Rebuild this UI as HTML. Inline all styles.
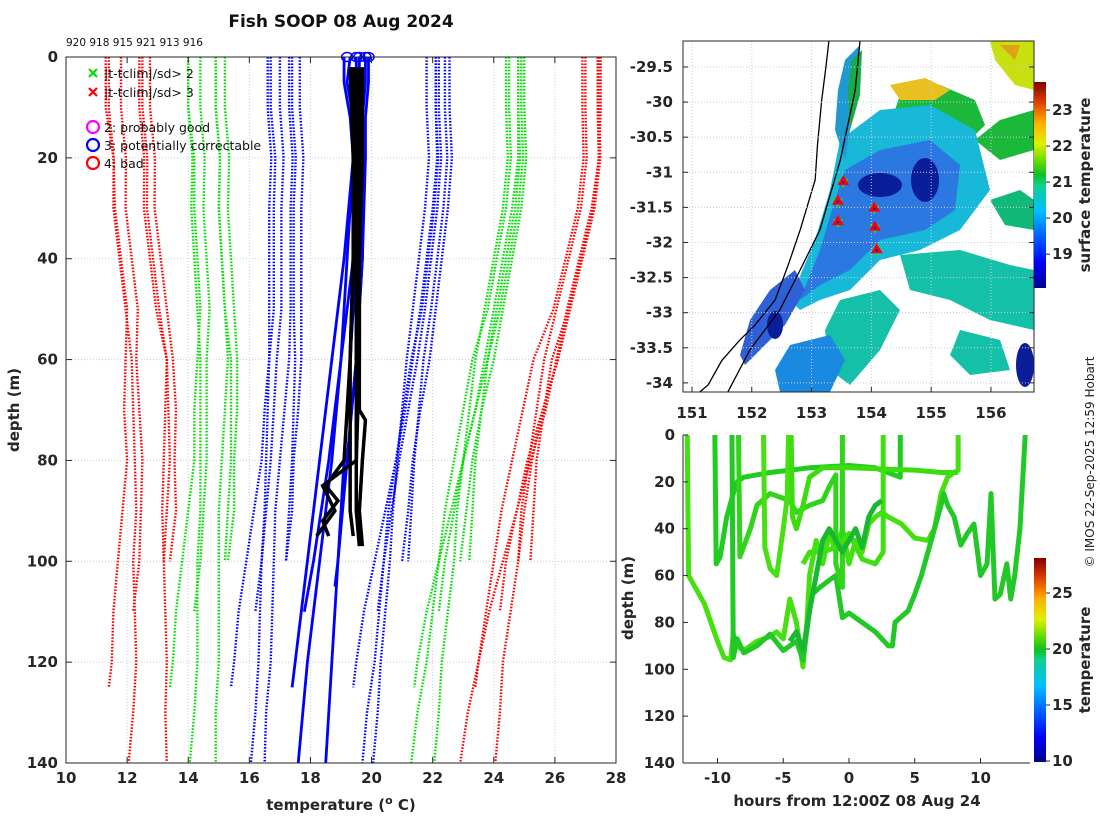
<!DOCTYPE html>
<html><head><meta charset="utf-8"><style>
html,body{margin:0;padding:0;background:#fff;}
svg text{font-family:"DejaVu Sans","Liberation Sans",sans-serif;}
.tk{font-weight:bold;font-size:15px;fill:#262626;}
</style></head><body>
<svg id="root" width="1100" height="820" viewBox="0 0 1100 820" xmlns="http://www.w3.org/2000/svg">
<defs>
<linearGradient id="jet" x1="0" y1="1" x2="0" y2="0">
<stop offset="0" stop-color="#00008f"/><stop offset="0.125" stop-color="#0000ff"/><stop offset="0.375" stop-color="#00c0ff"/><stop offset="0.5" stop-color="#10d090"/><stop offset="0.55" stop-color="#10c020"/><stop offset="0.625" stop-color="#70e000"/><stop offset="0.7" stop-color="#e0f000"/><stop offset="0.8" stop-color="#ffb000"/><stop offset="0.9" stop-color="#e04000"/><stop offset="1" stop-color="#800000"/>
</linearGradient>
<clipPath id="clipL"><rect x="66" y="57" width="550" height="706"/></clipPath>
<clipPath id="clipM"><rect x="683" y="41" width="351" height="351"/></clipPath>
<clipPath id="clipB"><rect x="683" y="435" width="347" height="328"/></clipPath>
</defs>
<text x="341" y="27" text-anchor="middle" font-size="17" font-weight="bold" fill="#111">Fish SOOP 08 Aug 2024</text>
<text x="66" y="46" font-size="10.5" fill="#111">920 918 915 921 913 916</text>
<g id="left"></g>
<g id="map"></g>
<g id="br"></g>
<text transform="translate(1094,462) rotate(-90)" text-anchor="middle" font-size="12" fill="#222">© IMOS 22-Sep-2025 12:59 Hobart</text>
</svg>
<script>
// ---------- Left profile chart data ----------
const climDepths=[0,10,20,30,40,50,60,70,80,90,100,110,120,130,140];
const castMaxDepth=[125,110,100,100,140,140];
const castMean1=[19.4,19.4,19.5,19.4,19.3,19.2,19.0,18.8,18.6,18.3,18.0,17.7,17.5,17.4];
const castMean2=[19.6,19.6,19.7,19.6,19.5,19.4,19.2,19.0,18.8,18.6,18.4,18.2];
const castMean3=[19.9,19.9,20.0,19.9,19.8,19.7,19.6,19.5,19.4,19.3,19.2];
const castMean4=[20.1,20.1,20.2,20.1,20.0,19.9,19.8,19.6,19.4,19.3,19.1];
const castMean5=[19.2,19.2,19.3,19.2,19.1,19.0,18.9,18.8,18.7,18.6,18.5,18.4,18.3,18.2,18.05];
const castMean6=[19.7,19.7,19.8,19.7,19.6,19.5,19.3,19.1,18.9,18.7,18.6,18.5,18.4,18.2,18.1];
const castSd1=[2.7,2.7,2.65,2.6,2.5,2.4,2.35,2.3,2.2,2.15,2.1,2.05,2.0,2.0];
const castSd2=[2.6,2.6,2.58,2.55,2.45,2.35,2.3,2.2,2.1,2.05,2.0,2.0];
const castSd3=[2.5,2.5,2.48,2.45,2.35,2.25,2.1,2.05,2.0,2.0,2.0];
const castSd4=[2.45,2.45,2.43,2.4,2.3,2.2,2.1,2.0,1.95,1.9,1.9];
const castSd5=[2.6,2.6,2.58,2.55,2.45,2.35,2.25,2.2,2.15,2.1,2.1,2.05,2.0,2.0,2.0];
const castSd6=[2.4,2.4,2.38,2.35,2.25,2.15,2.0,1.95,1.9,1.85,1.8,1.75,1.7,1.65,1.6];
// measured blue (flag 3) profiles: depth / temperature
const blueDepth1=[0,5,12,20,40,60,80,100,120,140];
const blueTemp1=[19.1,19.1,19.3,19.4,19.2,19.0,18.7,18.3,17.9,17.6];
const blueDepth2=[0,5,12,20,40,60,80,100,120,140];
const blueTemp2=[19.5,19.5,19.6,19.6,19.5,19.3,19.1,18.9,18.7,18.5];
const blueDepth3=[0,5,12,20,40,60,80,100,120,125];
const blueTemp3=[19.3,19.2,19.4,19.4,19.1,18.7,18.3,17.9,17.5,17.4];
const blueDepth4=[0,5,12,20,40,60,80,100,110];
const blueTemp4=[19.6,19.6,19.6,19.6,19.4,19.0,18.6,18.1,17.8];
const blueDepth5=[0,5,12,20,40,60,80,100,105];
const blueTemp5=[19.8,19.8,19.7,19.7,19.7,19.5,19.2,18.9,18.8];
const blueDepth6=[0,5,12,20,40,60,80,92];
const blueTemp6=[19.9,19.9,19.8,19.8,19.7,19.5,19.2,19.0];
const blackDepth1=[2,20,40,60,70,72,80,90,97];
const blackTemp1=[19.6,19.6,19.6,19.6,19.6,19.8,19.7,19.6,19.7];
const blackDepth2=[2,20,40,60,80,90,95];
const blackTemp2=[19.4,19.4,19.4,19.3,19.3,19.3,19.4];
const blackDepth3=[2,20,40,60,80,85,88,92,95];
const blackTemp3=[19.3,19.4,19.4,19.3,19.1,18.5,18.9,18.4,18.6];
const blackDepth4=[2,20,40,55,80,85,90,95];
const blackTemp4=[19.5,19.5,19.5,19.5,19.5,18.4,18.8,18.2];
const blackDepth5=[2,20,40,60,80,90,97];
const blackTemp5=[19.7,19.7,19.6,19.6,19.5,19.5,19.6];
const circleTemps=[19.2,19.5,19.6,19.8,19.9];
const xTicksL=[10,12,14,16,18,20,22,24,26,28];
const yTicksL=[0,20,40,60,80,100,120,140];

// ---------- Map data ----------
const mapLonTicks=[151,152,153,154,155,156];
const mapLatTicks=[-29.5,-30,-30.5,-31,-31.5,-32,-32.5,-33,-33.5,-34];
const stationLon=[153.53,153.44,153.44,154.05,154.06,154.09];
const stationLat=[-31.14,-31.42,-31.71,-31.52,-31.79,-32.11];
const sstTicks=[19,20,21,22,23];
const coastLon=[153.29,153.24,153.17,153.1,153.06,152.81,152.61,152.39,152.05,151.8,151.5,151.27,151.13];
const coastLat=[-29.13,-29.5,-29.97,-30.6,-31.11,-31.82,-32.32,-32.82,-33.18,-33.39,-33.68,-34.03,-34.13];
const isoLon=[153.81,153.73,153.48,153.14,152.81,152.47,151.97,151.6];
const isoLat=[-29.13,-29.83,-30.83,-31.82,-32.39,-32.96,-33.53,-34.13];

// ---------- Bottom-right data ----------
const hrTicks=[-10,-5,0,5,10];
const depTicksB=[0,20,40,60,80,100,120,140];
const cbTicksB=[10,15,20,25];
const trkHoursA=[-12.3,-12.2,-11,-10,-9.5,-9,-8.8,-8.5,-8,-7,-6,-5.5,-5,-4.5,-4,-3.5,-3.2,-3,-2.5,-2,-1.5,-1,-0.5,0,0.5,1,1.5,2,2.5,3,4,5,6,6.5,7,7.5,8,8.3,8.3];
const trkDepthA=[0,60,72,88,95,96,85,90,92,88,86,84,87,70,80,99,80,60,45,55,42,50,40,55,45,50,38,35,33,35,38,44,45,40,25,18,16,15,0];
const trkHoursB=[-10.2,-10.1,-9.8,-9.3,-8.8,-8.5,-8,-6,-3,0,2,3.9,3.9];
const trkDepthB=[0,55,52,35,25,20,18,16,14,13,14,18,0];
const trkHoursC=[-8.9,-8.8,-8.5,-8,-7,-6,-5,-4,-3.5,-3,-2.8,-2.2,-1.5,-1,-0.5,0,1,2,3,3.3,3.5,4.5,5,5.5,6,6.5,7,7.2,7.5,8,8.5,9,9.5,10,10.5,10.8,11.1,11.5,12,12.3,12.6,13,13.4];
const trkDepthC=[0,95,87,93,90,85,92,88,96,75,68,65,62,60,78,76,80,84,90,90,80,75,68,60,50,40,30,25,30,35,47,42,38,60,55,25,70,68,55,70,60,40,0];
const trkHoursD=[-8.4,-8.3,-7.5,-7,-6,-5,-4.5,-4,-3,-2,-1.5,-1,-1,-0.5,-0.5];
const trkDepthD=[0,52,40,30,25,27,28,33,30,28,22,17,55,65,0];
const trkHoursE=[-6.5,-6.4,-6,-5.5,-5,-4.7,-4.6];
const trkDepthE=[0,48,57,60,40,27,0];
const trkHoursF=[-4.4,-4.3,-4,-3.5,-3,-2,0,5,7,8.3];
const trkDepthF=[0,35,40,30,18,14,14,15,16,16];
const trkHoursG=[-3.5,-3,-2,-1,0,1,2,2.6,2.6];
const trkDepthG=[55,50,50,48,42,53,55,50,0];
const trkHoursH=[-4.5,-4,-3.5,-3,-2.5,-2,-1.5,-1,-0.5,0,0.5,1,1.5,2,2.5];
const trkDepthH=[88,84,92,75,60,45,40,45,50,45,40,48,35,30,28];

const NS="http://www.w3.org/2000/svg";
function mk(tag,attrs,parent){const e=document.createElementNS(NS,tag);for(const k in attrs)e.setAttribute(k,attrs[k]);parent.appendChild(e);return e;}

// ===== LEFT =====
const L=document.getElementById('left');
const lx0=66,lx1=616,ly0=57,ly1=763;
const xL=t=>lx0+(t-10)/18*(lx1-lx0);
const yL=d=>ly0+d/140*(ly1-ly0);
xTicksL.forEach(t=>{const g=mk('line',{x1:xL(t),x2:xL(t),y1:ly0,y2:ly1,stroke:'#c9cbe0','stroke-width':1,'stroke-dasharray':'1 2'},L);
});
yTicksL.forEach(d=>{const g=mk('line',{x1:lx0,x2:lx1,y1:yL(d),y2:yL(d),stroke:'#c9cbe0','stroke-width':1,'stroke-dasharray':'1 2'},L);
});
const means=[castMean1,castMean2,castMean3,castMean4,castMean5,castMean6];
const sds=[castSd1,castSd2,castSd3,castSd4,castSd5,castSd6];
const envCol={1:'#0000ff',2:'#00e000',3:'#ff0000'};
const gL=mk('g',{'clip-path':'url(#clipL)'},L);
means.forEach((m,ci)=>{
 const dd=m.map((_,i)=>i<climDepths.length-1&&climDepths[i]<castMaxDepth[ci]?climDepths[i]:castMaxDepth[ci]);
 [-3,-2,-1,1,2,3].forEach(k=>{
  const pts=m.map((v,i)=>xL(v+k*sds[ci][i]).toFixed(1)+','+yL(dd[i]).toFixed(1)).join(' ');
  const p=mk('polyline',{points:pts,fill:'none',stroke:envCol[Math.abs(k)],'stroke-width':2.4,'stroke-dasharray':'1.6 1.6'},gL);
  
  
 });
});
[[blueDepth1,blueTemp1],[blueDepth2,blueTemp2],[blueDepth3,blueTemp3],[blueDepth4,blueTemp4],[blueDepth5,blueTemp5],[blueDepth6,blueTemp6]].forEach(([d,t])=>{
 const p=mk('polyline',{points:t.map((v,i)=>xL(v)+','+yL(d[i])).join(' '),fill:'none',stroke:'#0000ff','stroke-width':2.8},gL);
 
 
});
[[blackDepth1,blackTemp1],[blackDepth2,blackTemp2],[blackDepth3,blackTemp3],[blackDepth4,blackTemp4],[blackDepth5,blackTemp5]].forEach(([d,t])=>{
 const p=mk('polyline',{points:t.map((v,i)=>xL(v)+','+yL(d[i])).join(' '),fill:'none',stroke:'#000','stroke-width':3.5},gL);
 
 
});
circleTemps.forEach(t=>{const c=mk('ellipse',{cx:xL(t),cy:ly0,rx:5.5,ry:4.5,fill:'none',stroke:'#0000ff','stroke-width':1.5},L);
});
mk('rect',{x:lx0,y:ly0,width:lx1-lx0,height:ly1-ly0,fill:'none',stroke:'#262626','stroke-width':1},L);
xTicksL.forEach(t=>{mk('line',{x1:xL(t),x2:xL(t),y1:ly1,y2:ly1-6,stroke:'#262626'},L);mk('line',{x1:xL(t),x2:xL(t),y1:ly0,y2:ly0+6,stroke:'#262626'},L);
 const tx=mk('text',{x:xL(t),y:783,'text-anchor':'middle',class:'tk'},L);tx.textContent=t;
 });
yTicksL.forEach(d=>{mk('line',{x1:lx0,x2:lx0+6,y1:yL(d),y2:yL(d),stroke:'#262626'},L);mk('line',{x1:lx1,x2:lx1-6,y1:yL(d),y2:yL(d),stroke:'#262626'},L);
 const tx=mk('text',{x:58,y:yL(d)+5,'text-anchor':'end',class:'tk'},L);tx.textContent=d;
 });
{const t=mk('text',{x:341,y:810,'text-anchor':'middle',class:'tk'},L);t.innerHTML='temperature (<tspan dy="-6" font-size="11">o</tspan><tspan dy="6"> C)</tspan>';

const y=mk('text',{transform:'translate(19,410) rotate(-90)','text-anchor':'middle',class:'tk'},L);y.textContent='depth (m)';
}
// legend
const lg=mk('g',{},L);
[['#00e000','|t-tclim|/sd> 2',73],['#ff0000','|t-tclim|/sd> 3',92]].forEach(([c,s,y])=>{
 mk('path',{d:`M89 ${y-4}l8 8M97 ${y-4}l-8 8`,stroke:c,'stroke-width':2.2},lg);
 const t=mk('text',{x:104,y:y+5,'font-size':12.5,fill:'#111'},lg);t.textContent=s;
 });
[['#ff00ff','2: probably good',127],['#0000ff','3: potentially correctable',145],['#ff0000','4: bad',163]].forEach(([c,s,y])=>{
 mk('circle',{cx:93,cy:y,r:6,fill:'none',stroke:c,'stroke-width':2.2},lg);
 const t=mk('text',{x:104,y:y+5,'font-size':12.5,fill:'#111'},lg);t.textContent=s;
 });

// ===== MAP =====
const M=document.getElementById('map');
const mx0=683,mx1=1034,my0=41,my1=392;
const lonMin=150.85,lonMax=156.72,latMax=-29.13,latMin=-34.13;
const xM=lo=>mx0+(lo-lonMin)/(lonMax-lonMin)*(mx1-mx0);
const yM=la=>my0+(latMax-la)/(latMax-latMin)*(my1-my0);
const gM=mk('g',{'clip-path':'url(#clipM)'},M);
const blobs=[
 ['#1cb83a','900,95 940,85 975,100 985,125 965,145 945,140 920,120 895,110'],
 ['#c8e010','990,41 1034,41 1034,90 1015,85 995,60'],
 ['#e8c020','890,85 925,78 950,90 935,100 900,100'],
 ['#e0a018','1000,45 1020,45 1015,60'],
 ['#1cb83a','975,140 1000,120 1034,110 1034,150 1000,160'],
 ['#12b878','990,200 1020,190 1034,200 1034,230 1005,225'],
 ['#14c0a8','900,255 960,250 1010,265 1034,270 1034,330 990,320 950,300 910,290'],
 ['#14c0a8','840,300 880,290 900,310 880,350 850,385 830,370 825,330'],
 ['#14c0a8','960,330 1000,340 1010,370 970,375 950,355'],
 ['#18b8d8','840,140 880,110 930,105 975,130 990,190 960,230 920,250 880,260 850,290 820,300 800,310 790,300 815,240 830,190'],
 ['#2a78e0','845,170 880,150 930,140 960,165 955,210 925,230 880,240 850,270 820,285 800,300 820,250 835,200'],
 ['#1e9ad0','845,60 860,45 855,100 845,160 835,130 838,90'],
 ['#1aaa48','852,60 862,50 860,95 850,130 848,90'],
 ['#3060d8','770,290 795,270 805,290 785,325 765,345 745,365 740,355 750,320'],
 ['#1a8ae0','790,345 830,335 845,360 830,392 780,392 775,370'],
];
blobs.forEach(([c,p])=>{const e=mk('polygon',{points:p,fill:c},gM);});
[[880,185,22,12],[925,180,14,22],[775,325,8,14],[1025,365,9,22]].forEach(([x,y,a,b])=>{const e=mk('ellipse',{cx:x,cy:y,rx:a,ry:b,fill:'#0a1e9a'},gM);});
mapLonTicks.forEach(lo=>{mk('line',{x1:xM(lo),x2:xM(lo),y1:my0,y2:my1,stroke:'#c9cbe0','stroke-dasharray':'1 2'},M);});
mapLatTicks.forEach(la=>{mk('line',{x1:mx0,x2:mx1,y1:yM(la),y2:yM(la),stroke:'#c9cbe0','stroke-dasharray':'1 2'},M);});
{const c=mk('polyline',{points:coastLon.map((v,i)=>xM(v)+','+yM(coastLat[i])).join(' '),fill:'none',stroke:'#000','stroke-width':1.3},gM);

const s=mk('polyline',{points:isoLon.map((v,i)=>xM(v)+','+yM(isoLat[i])).join(' '),fill:'none',stroke:'#000','stroke-width':1.3},gM);
}
stationLon.forEach((lo,i)=>{const x=xM(lo),y=yM(stationLat[i]);
 mk('path',{d:`M${x-5} ${y-3}h10l-5 9z`,fill:'#22dd22'},M);
 const t=mk('path',{d:`M${x} ${y-7}l6 10h-12z`,fill:'#ff0000'},M);
 
 mk('circle',{cx:x,cy:y,r:1.2,fill:'#0000ff'},M);});
mk('rect',{x:mx0,y:my0,width:mx1-mx0,height:my1-my0,fill:'none',stroke:'#262626'},M);
mapLonTicks.forEach(lo=>{mk('line',{x1:xM(lo),x2:xM(lo),y1:my1,y2:my1-5,stroke:'#262626'},M);
 const t=mk('text',{x:xM(lo),y:418,'text-anchor':'middle',class:'tk'},M);t.textContent=lo;
 });
mapLatTicks.forEach(la=>{mk('line',{x1:mx0,x2:mx0+5,y1:yM(la),y2:yM(la),stroke:'#262626'},M);mk('line',{x1:mx1,x2:mx1-5,y1:yM(la),y2:yM(la),stroke:'#262626'},M);
 const t=mk('text',{x:673,y:yM(la)+5,'text-anchor':'end',class:'tk'},M);t.textContent=la;
 });
const cb1=mk('rect',{x:1034,y:82,width:12,height:206,fill:'url(#jet)'},M);

const ySst=v=>288-(v-18.06)/(23.78-18.06)*206;
sstTicks.forEach(v=>{mk('line',{x1:1046,x2:1050,y1:ySst(v),y2:ySst(v),stroke:'#262626'},M);
 const t=mk('text',{x:1052,y:ySst(v)+5,class:'tk','font-size':14},M);t.textContent=v;
 });
{const t=mk('text',{transform:'translate(1090,185) rotate(-90)','text-anchor':'middle',class:'tk','font-size':14},M);t.textContent='surface temperature';
}

// ===== BOTTOM RIGHT =====
const B=document.getElementById('br');
const bx0=683,bx1=1030,by0=435,by1=763;
const xB=h=>849+h*13.15;
const yB=d=>by0+d/140*(by1-by0);
const gB=mk('g',{'clip-path':'url(#clipB)'},B);
[[trkHoursA,trkDepthA,'#44e010'],[trkHoursB,trkDepthB,'#20cc20'],[trkHoursC,trkDepthC,'#22c825'],[trkHoursD,trkDepthD,'#30d418'],[trkHoursE,trkDepthE,'#48e012'],[trkHoursF,trkDepthF,'#3cdc10'],[trkHoursG,trkDepthG,'#40e010'],[trkHoursH,trkDepthH,'#1ab830']].forEach(([h,d,c])=>{
 const p=mk('polyline',{points:h.map((v,i)=>xB(v)+','+yB(d[i])).join(' '),fill:'none',stroke:c,'stroke-width':5,'stroke-linejoin':'round'},gB);
 
 
});
mk('line',{x1:bx0,x2:bx0,y1:by0,y2:by1,stroke:'#262626'},B);
mk('line',{x1:bx0,x2:bx1,y1:by1,y2:by1,stroke:'#262626'},B);
hrTicks.forEach(h=>{mk('line',{x1:xB(h),x2:xB(h),y1:by1,y2:by1-5,stroke:'#262626'},B);
 const t=mk('text',{x:xB(h),y:783,'text-anchor':'middle',class:'tk'},B);t.textContent=h;
 });
depTicksB.forEach(d=>{mk('line',{x1:bx0,x2:bx0+5,y1:yB(d),y2:yB(d),stroke:'#262626'},B);
 const t=mk('text',{x:675,y:yB(d)+5,'text-anchor':'end',class:'tk'},B);t.textContent=d;
 });
{const t=mk('text',{x:857,y:806,'text-anchor':'middle',class:'tk'},B);t.textContent='hours from 12:00Z 08 Aug 24';

const y=mk('text',{transform:'translate(633,598) rotate(-90)','text-anchor':'middle',class:'tk'},B);y.textContent='depth (m)';
}
const cb2=mk('rect',{x:1034,y:558,width:12,height:204,fill:'url(#jet)'},B);

const yCb=v=>761-(v-10)*11.2;
cbTicksB.forEach(v=>{mk('line',{x1:1046,x2:1050,y1:yCb(v),y2:yCb(v),stroke:'#262626'},B);
 const t=mk('text',{x:1052,y:yCb(v)+5,class:'tk','font-size':14},B);t.textContent=v;
 });
{const t=mk('text',{transform:'translate(1090,660) rotate(-90)','text-anchor':'middle',class:'tk','font-size':14},B);t.textContent='temperature';
}
</script>
</body></html>
